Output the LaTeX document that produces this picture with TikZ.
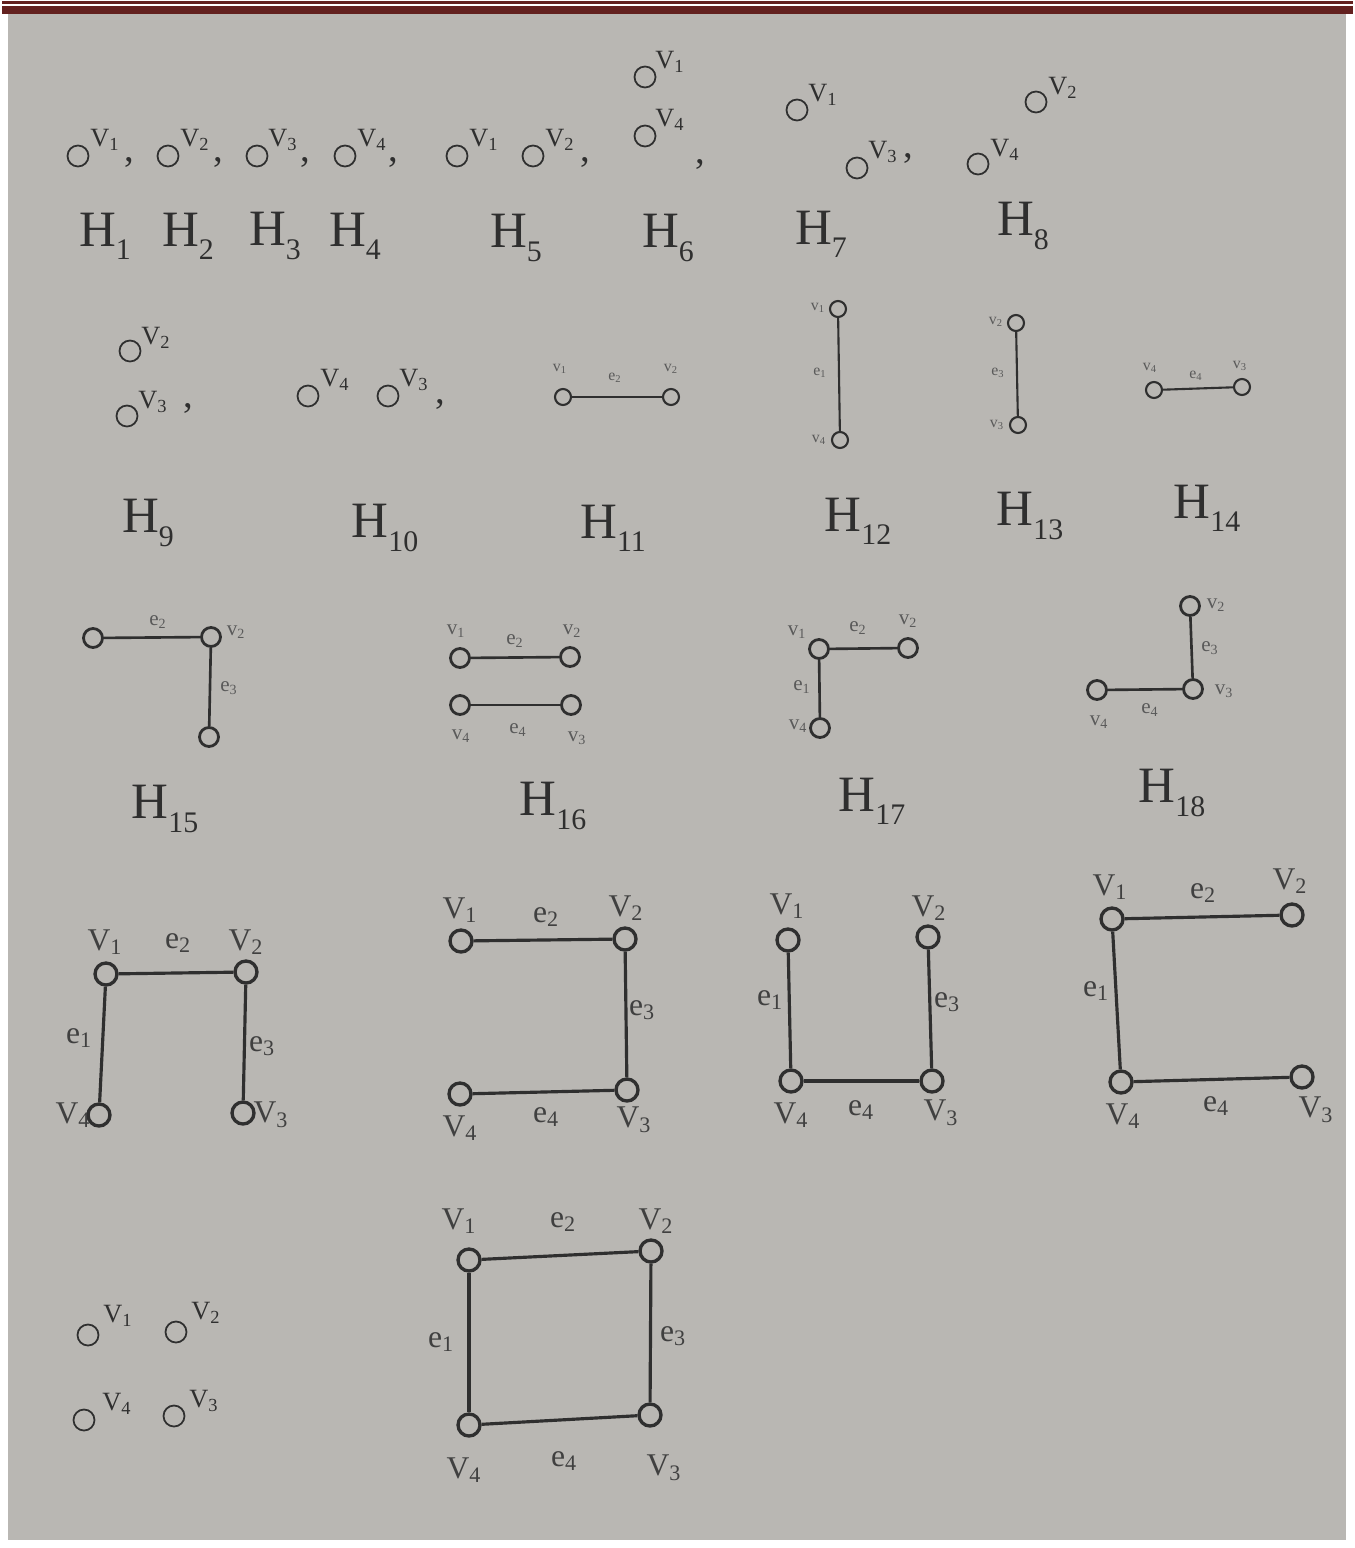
\documentclass[tikz,border=0pt]{standalone}
\usepackage{fontspec}
\setmainfont{Liberation Serif}
\definecolor{page}{HTML}{B9B7B3}
\definecolor{ink}{HTML}{2F2F2F}
\definecolor{soft}{HTML}{5A5A5A}
\definecolor{mid}{HTML}{404040}
\definecolor{bar}{HTML}{63211F}
\newcommand{\hsub}[1]{\raisebox{-0.26em}{\fontsize{17}{17}\selectfont #1}}
\begin{document}
\begin{tikzpicture}[x=0.02cm,y=-0.02cm,
  vA/.style={circle,draw=ink,line width=1.0pt,minimum size=0.42cm,inner sep=0pt},
  vB/.style={circle,draw=ink,line width=1.2pt,minimum size=0.32cm,inner sep=0pt},
  vC/.style={circle,draw=ink,line width=1.6pt,minimum size=0.38cm,inner sep=0pt},
  vD/.style={circle,draw=ink,line width=1.9pt,minimum size=0.44cm,inner sep=0pt},
  edgeB/.style={draw=ink,line width=1.2pt},
  edgeC/.style={draw=ink,line width=1.5pt},
  edgeD/.style={draw=ink,line width=1.8pt},
  hname/.style={text=ink,inner sep=0pt,font=\fontsize{29}{30}\selectfont},
  supl/.style={text=ink,inner sep=0pt,font=\fontsize{15}{16}\selectfont},
  comma/.style={text=ink,inner sep=0pt,font=\fontsize{22}{22}\selectfont},
  tiny/.style={text=soft,inner sep=0pt,font=\fontsize{9}{10}\selectfont},
  small/.style={text=soft,inner sep=0pt,font=\fontsize{12}{13}\selectfont},
  big/.style={text=mid,inner sep=0pt,font=\fontsize{18}{19}\selectfont}
]
\useasboundingbox (0,0) rectangle (1355,1548);
\fill[white] (0,0) rectangle (1355,1548);
\fill[page] (8,14) rectangle (1346,1540);
\fill[bar] (2,1) rectangle (1353,4);
\fill[bar] (2,6) rectangle (1353,14);

% ---------- Row 1 ----------
\node[vA] (a1) at (78,156) {};  \node[supl] (a1l) at (105,140) {V\textsubscript{1}}; \node[comma] (a1c) at (129,162) {,};
\node[vA] (a2) at (168,156) {}; \node[supl] (a2l) at (195,140) {V\textsubscript{2}}; \node[comma] (a2c) at (218,162) {,};
\node[vA] (a3) at (257,156) {}; \node[supl] (a3l) at (283,140) {V\textsubscript{3}}; \node[comma] (a3c) at (305,162) {,};
\node[vA] (a4) at (345,156) {}; \node[supl] (a4l) at (372,140) {V\textsubscript{4}}; \node[comma] (a4c) at (393,162) {,};
\node[vA] (a5) at (457,156) {}; \node[supl] (a5l) at (484,140) {V\textsubscript{1}};
\node[vA] (a6) at (533,156) {}; \node[supl] (a6l) at (560,140) {V\textsubscript{2}}; \node[comma] (a6c) at (585,162) {,};
\node[vA] (a7) at (645,77) {};  \node[supl] (a7l) at (670,62) {V\textsubscript{1}};
\node[vA] (a8) at (645,136) {}; \node[supl] (a8l) at (670,120) {V\textsubscript{4}}; \node[comma] (a8c) at (700,164) {,};
\node[vA] (a9) at (797,110) {}; \node[supl] (a9l) at (823,95) {V\textsubscript{1}};
\node[vA] (a10) at (857,168) {}; \node[supl] (a10l) at (883,152) {V\textsubscript{3}}; \node[comma] (a10c) at (908,158) {,};
\node[vA] (a11) at (1036,102) {}; \node[supl] (a11l) at (1063,88) {V\textsubscript{2}};
\node[vA] (a12) at (978,164) {}; \node[supl] (a12l) at (1005,150) {V\textsubscript{4}};

\node[hname] (H1) at (105,236) {H\hsub{1}};
\node[hname] (H2) at (188,236) {H\hsub{2}};
\node[hname] (H3) at (275,236) {H\hsub{3}};
\node[hname] (H4) at (355,236) {H\hsub{4}};
\node[hname] (H5) at (516,238) {H\hsub{5}};
\node[hname] (H6) at (668,238) {H\hsub{6}};
\node[hname] (H7) at (821,234) {H\hsub{7}};
\node[hname] (H8) at (1023,226) {H\hsub{8}};

% ---------- Row 2 ----------
\node[vA] (b1) at (130,351) {}; \node[supl] (b1l) at (156,338) {V\textsubscript{2}};
\node[vA] (b2) at (127,416) {}; \node[supl] (b2l) at (153,402) {V\textsubscript{3}}; \node[comma] (b2c) at (188,408) {,};
\node[vA] (b3) at (308,396) {}; \node[supl] (b3l) at (335,380) {V\textsubscript{4}};
\node[vA] (b4) at (388,396) {}; \node[supl] (b4l) at (414,380) {V\textsubscript{3}}; \node[comma] (b4c) at (440,404) {,};

\node[vB] (c1) at (563,397) {}; \node[vB] (c2) at (671,397) {};
\draw[edgeB] (c1) -- (c2);
\node[tiny] (c1l) at (560,369) {v\textsubscript{1}};
\node[tiny] (c2l) at (671,369) {v\textsubscript{2}};
\node[tiny] (c3l) at (615,378) {e\textsubscript{2}};

\node[vB] (d1) at (838,309) {}; \node[vB] (d2) at (840,440) {};
\draw[edgeB] (d1) -- (d2);
\node[tiny] (d1l) at (818,308) {v\textsubscript{1}};
\node[tiny] (d2l) at (819,440) {v\textsubscript{4}};
\node[tiny] (d3l) at (820,373) {e\textsubscript{1}};

\node[vB] (f1) at (1016,323) {}; \node[vB] (f2) at (1018,425) {};
\draw[edgeB] (f1) -- (f2);
\node[tiny] (f1l) at (996,322) {v\textsubscript{2}};
\node[tiny] (f2l) at (997,425) {v\textsubscript{3}};
\node[tiny] (f3l) at (998,373) {e\textsubscript{3}};

\node[vB] (g1) at (1154,390) {}; \node[vB] (g2) at (1242,387) {};
\draw[edgeB] (g1) -- (g2);
\node[tiny] (g1l) at (1150,368) {v\textsubscript{4}};
\node[tiny] (g2l) at (1240,366) {v\textsubscript{3}};
\node[tiny] (g3l) at (1196,376) {e\textsubscript{4}};

\node[hname] (H9) at (148,523) {H\hsub{9}};
\node[hname] (H10) at (385,528) {H\hsub{10}};
\node[hname] (H11) at (613,528) {H\hsub{11}};
\node[hname] (H12) at (858,521) {H\hsub{12}};
\node[hname] (H13) at (1030,516) {H\hsub{13}};
\node[hname] (H14) at (1207,508) {H\hsub{14}};

% ---------- Row 3 ----------
\node[vC] (k1) at (93,638) {}; \node[vC] (k2) at (211,637) {}; \node[vC] (k3) at (209,737) {};
\draw[edgeC] (k1) -- (k2); \draw[edgeC] (k2) -- (k3);
\node[small] (k2l) at (236,632) {v\textsubscript{2}};
\node[small] (k4l) at (158,622) {e\textsubscript{2}};
\node[small] (k5l) at (229,688) {e\textsubscript{3}};

\node[vC] (m1) at (460,658) {}; \node[vC] (m2) at (570,657) {};
\node[vC] (m3) at (460,705) {}; \node[vC] (m4) at (571,705) {};
\draw[edgeC] (m1) -- (m2); \draw[edgeC] (m3) -- (m4);
\node[small] (m1l) at (456,631) {v\textsubscript{1}};
\node[small] (m2l) at (572,631) {v\textsubscript{2}};
\node[small] (m5l) at (515,641) {e\textsubscript{2}};
\node[small] (m3l) at (461,736) {v\textsubscript{4}};
\node[small] (m6l) at (518,730) {e\textsubscript{4}};
\node[small] (m4l) at (577,738) {v\textsubscript{3}};

\node[vC] (n1) at (819,649) {}; \node[vC] (n2) at (908,648) {}; \node[vC] (n3) at (820,728) {};
\draw[edgeC] (n1) -- (n2); \draw[edgeC] (n1) -- (n3);
\node[small] (n1l) at (797,632) {v\textsubscript{1}};
\node[small] (n4l) at (858,628) {e\textsubscript{2}};
\node[small] (n2l) at (908,621) {v\textsubscript{2}};
\node[small] (n5l) at (802,687) {e\textsubscript{1}};
\node[small] (n3l) at (798,726) {v\textsubscript{4}};

\node[vC] (p1) at (1190,606) {}; \node[vC] (p2) at (1193,689) {}; \node[vC] (p3) at (1097,690) {};
\draw[edgeC] (p1) -- (p2); \draw[edgeC] (p2) -- (p3);
\node[small] (p1l) at (1216,605) {v\textsubscript{2}};
\node[small] (p4l) at (1210,648) {e\textsubscript{3}};
\node[small] (p2l) at (1224,691) {v\textsubscript{3}};
\node[small] (p5l) at (1150,710) {e\textsubscript{4}};
\node[small] (p3l) at (1099,722) {v\textsubscript{4}};

\node[hname] (H15) at (165,809) {H\hsub{15}};
\node[hname] (H16) at (553,806) {H\hsub{16}};
\node[hname] (H17) at (872,801) {H\hsub{17}};
\node[hname] (H18) at (1172,793) {H\hsub{18}};

% ---------- Row 4 ----------
\node[vD] (q1) at (106,974) {}; \node[vD] (q2) at (246,972) {};
\node[vD] (q4) at (99,1115) {};  \node[vD] (q3) at (243,1113) {};
\draw[edgeD] (q1) -- (q2); \draw[edgeD] (q1) -- (q4); \draw[edgeD] (q2) -- (q3);
\node[big] (q1l) at (105,942) {V\textsubscript{1}};
\node[big] (q5l) at (178,943) {e\textsubscript{2}};
\node[big] (q2l) at (246,942) {V\textsubscript{2}};
\node[big] (q6l) at (79,1038) {e\textsubscript{1}};
\node[big] (q7l) at (262,1046) {e\textsubscript{3}};
\node[big] (q4l) at (73,1115) {V\textsubscript{4}};
\node[big] (q3l) at (271,1115) {V\textsubscript{3}};

\node[vD] (r1) at (461,941) {}; \node[vD] (r2) at (625,939) {};
\node[vD] (r4) at (460,1094) {}; \node[vD] (r3) at (627,1090) {};
\draw[edgeD] (r1) -- (r2); \draw[edgeD] (r2) -- (r3); \draw[edgeD] (r4) -- (r3);
\node[big] (r1l) at (460,910) {V\textsubscript{1}};
\node[big] (r5l) at (546,917) {e\textsubscript{2}};
\node[big] (r2l) at (626,908) {V\textsubscript{2}};
\node[big] (r6l) at (642,1010) {e\textsubscript{3}};
\node[big] (r4l) at (460,1128) {V\textsubscript{4}};
\node[big] (r7l) at (546,1117) {e\textsubscript{4}};
\node[big] (r3l) at (634,1120) {V\textsubscript{3}};

\node[vD] (s1) at (788,940) {}; \node[vD] (s2) at (928,937) {};
\node[vD] (s4) at (791,1081) {}; \node[vD] (s3) at (932,1081) {};
\draw[edgeD] (s1) -- (s4); \draw[edgeD] (s2) -- (s3); \draw[edgeD] (s4) -- (s3);
\node[big] (s1l) at (787,906) {V\textsubscript{1}};
\node[big] (s2l) at (929,908) {V\textsubscript{2}};
\node[big] (s5l) at (770,1000) {e\textsubscript{1}};
\node[big] (s6l) at (947,1002) {e\textsubscript{3}};
\node[big] (s4l) at (791,1115) {V\textsubscript{4}};
\node[big] (s7l) at (861,1110) {e\textsubscript{4}};
\node[big] (s3l) at (941,1113) {V\textsubscript{3}};

\node[vD] (t1) at (1112,919) {}; \node[vD] (t2) at (1292,915) {};
\node[vD] (t4) at (1121,1082) {}; \node[vD] (t3) at (1302,1077) {};
\draw[edgeD] (t1) -- (t2); \draw[edgeD] (t1) -- (t4); \draw[edgeD] (t4) -- (t3);
\node[big] (t1l) at (1110,887) {V\textsubscript{1}};
\node[big] (t5l) at (1203,893) {e\textsubscript{2}};
\node[big] (t2l) at (1290,881) {V\textsubscript{2}};
\node[big] (t6l) at (1096,991) {e\textsubscript{1}};
\node[big] (t4l) at (1123,1116) {V\textsubscript{4}};
\node[big] (t7l) at (1216,1106) {e\textsubscript{4}};
\node[big] (t3l) at (1316,1110) {V\textsubscript{3}};

% ---------- Row 5 ----------
\node[vA] (u1) at (88,1335) {};  \node[supl] (u1l) at (118,1316) {V\textsubscript{1}};
\node[vA] (u2) at (176,1332) {}; \node[supl] (u2l) at (206,1313) {V\textsubscript{2}};
\node[vA] (u4) at (84,1420) {};  \node[supl] (u4l) at (117,1404) {V\textsubscript{4}};
\node[vA] (u3) at (174,1416) {}; \node[supl] (u3l) at (204,1401) {V\textsubscript{3}};

\node[vD] (w1) at (469,1260) {}; \node[vD] (w2) at (651,1251) {};
\node[vD] (w4) at (469,1425) {}; \node[vD] (w3) at (650,1415) {};
\draw[edgeD] (w1) -- (w2); \draw[edgeD] (w1) -- (w4); \draw[edgeD] (w2) -- (w3); \draw[edgeD] (w4) -- (w3);
\node[big] (w1l) at (459,1221) {V\textsubscript{1}};
\node[big] (w5l) at (563,1222) {e\textsubscript{2}};
\node[big] (w2l) at (656,1221) {V\textsubscript{2}};
\node[big] (w6l) at (441,1342) {e\textsubscript{1}};
\node[big] (w7l) at (673,1336) {e\textsubscript{3}};
\node[big] (w4l) at (464,1470) {V\textsubscript{4}};
\node[big] (w8l) at (564,1461) {e\textsubscript{4}};
\node[big] (w3l) at (664,1468) {V\textsubscript{3}};
\end{tikzpicture}
\end{document}
